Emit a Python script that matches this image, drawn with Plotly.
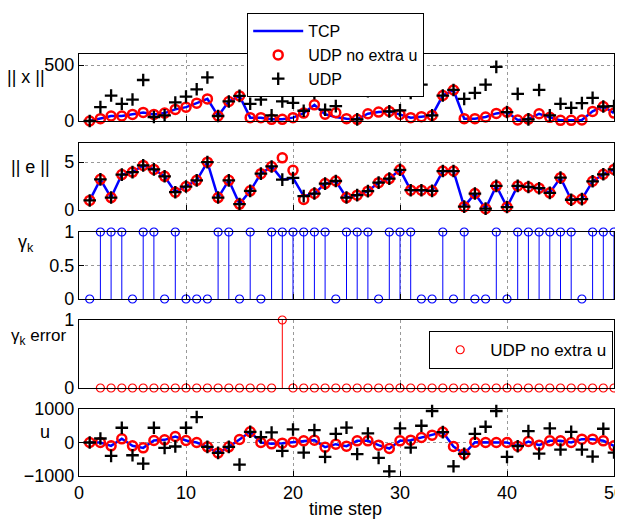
import plotly.graph_objects as go

k = list(range(1, 51))

x_tcp = [0, 21, 45, 45, 59, 77, 59, 71, 104, 124, 160, 198, 45, 175, 225, 30, 30, 15, 15, 30,
         71, 145, 60, 35, 21, 15, 65, 80, 86, 59, 30, 39, 50, 228, 278, 21, 21, 36, 68, 80,
         9, 17, 65, 33, 6, 6, 9, 86, 130, 71]
x_noextra = [0, 21, 45, 45, 59, 77, 59, 71, 104, 124, 160, 198, 45, 175, 225, 30, 30, 15, 15, 30,
             71, 145, 60, 74, 21, 15, 65, 80, 86, 59, 30, 39, 50, 228, 278, 21, 21, 36, 68, 80,
             9, 17, 65, 33, 6, 6, 9, 86, 130, 71]
x_udp = [0, 124, 228, 154, 192, 367, 36, 50, 166, 219, 284, 390, 45, 175, 225, 154, 192, 50, 175, 163,
         92, 248, 101, 133, 275, 15, 266, 346, 86, 95, 251, 325, 50, 228, 278, 198, 251, 325, 485, 80,
         243, 15, 278, 50, 154, 118, 160, 207, 130, 133]

e_noextra = [1.0, 3.2, 1.3, 3.7, 3.96, 4.66, 4.24, 3.52, 1.86, 2.45, 3.1, 5.0, 1.3, 3.1, 0.62, 2.0, 3.8, 4.55, 5.45, 4.14,
             1.1, 1.72, 2.76, 3.03, 1.3, 1.55, 1.97, 2.86, 3.28, 4.2, 2.07, 2.07, 2.0, 4.07, 4.07, 0.35, 1.72, 0.14, 2.52, 0.31,
             2.52, 2.41, 2.28, 1.79, 3.38, 1.07, 1.14, 3.0, 3.73, 4.24]
e_udp = [1.0, 3.2, 1.3, 3.7, 3.96, 4.66, 4.24, 3.52, 1.86, 2.45, 3.1, 5.0, 1.3, 3.1, 0.62, 2.0, 3.8, 4.55, 3.17, 3.35,
         1.45, 1.72, 2.76, 3.03, 1.3, 1.55, 1.97, 2.86, 3.28, 4.2, 2.07, 2.07, 2.0, 4.07, 4.07, 0.35, 1.72, 0.14, 2.52, 0.31,
         2.52, 2.41, 2.28, 1.79, 3.38, 1.07, 1.14, 3.0, 3.73, 4.24]
e_tcp = e_udp

gamma = [0, 1, 1, 1, 0, 1, 1, 0, 1, 0, 0, 0, 1, 1, 0, 1, 0, 1, 1, 1,
         1, 1, 1, 0, 1, 1, 1, 0, 1, 1, 1, 0, 0, 1, 0, 1, 0, 0, 1, 0,
         1, 1, 1, 1, 1, 1, 0, 1, 1, 1]

k_err = list(range(2, 51))
gamma_err = [0] * 17 + [1] + [0] * 31

u_noextra = [0, 0, -100, 110, -100, -160, 60, 80, 180, 60, 0, -130, -310, -130, 90, 320, 0, -40, -20, 10,
             50, 70, -140, -50, -110, 50, 50, -80, -180, 50, 70, 150, 220, 310, -120, -340, 10, 0, 0, 0,
             -110, 30, -80, 50, 50, 0, 100, 100, 50, -100]
u_tcp = u_noextra
u_udp = [0, 120, -400, 440, -380, -630, 440, -160, -120, 440, 760, -130, -310, -130, -660, 320, 160, 300, -250, 390,
         -300, 370, -430, 260, 445, -345, 270, -460, -860, 420, -150, 500, 940, 310, -710, -340, 260, 470, 940, -430,
         -110, 340, -330, 420, -210, 320, -210, -420, 410, -300]

FONT = "Liberation Sans, Arial, Helvetica, sans-serif"
BLUE = "#0000ff"
RED = "#ff0000"
FS = 18

# page offset compensation (browser body margin)
OX, OY = 8, 8
W, H = 623 - OX, 519 - OY
PL, PR, PT, PB = 79, 614, 54, 476  # plot area in window pixels


def px2x(px):
    return (px - PL) / (PR - PL)


def py2y(py):
    return (PB - py) / (PB - PT)


fig = go.Figure()


def add_triple(tcp, noextra, udp, n, legend):
    xa = "x" if n == 1 else f"x{n}"
    ya = "y" if n == 1 else f"y{n}"
    fig.add_trace(go.Scatter(x=k, y=tcp, mode="lines", name="TCP", line=dict(color=BLUE, width=2.5),
                             xaxis=xa, yaxis=ya, showlegend=legend, legend="legend"))
    fig.add_trace(go.Scatter(x=k, y=noextra, mode="markers", name="UDP no extra u",
                             marker=dict(symbol="circle-open", size=9, color=RED, line=dict(width=2.5, color=RED)),
                             xaxis=xa, yaxis=ya, showlegend=legend, legend="legend", cliponaxis=False))
    fig.add_trace(go.Scatter(x=k, y=udp, mode="markers", name="UDP",
                             marker=dict(symbol="cross-thin", size=9, color="black", line=dict(width=2.3, color="black")),
                             xaxis=xa, yaxis=ya, showlegend=legend, legend="legend", cliponaxis=False))


add_triple(x_tcp, x_noextra, x_udp, 1, True)
add_triple(e_tcp, e_noextra, e_udp, 2, False)

# gamma stems
sx, sy = [], []
for kk, g in zip(k, gamma):
    sx += [kk, kk, None]
    sy += [0, g, None]
fig.add_trace(go.Scatter(x=sx, y=sy, mode="lines", line=dict(color=BLUE, width=1), xaxis="x3", yaxis="y3",
                         showlegend=False))
fig.add_trace(go.Scatter(x=k, y=gamma, mode="markers",
                         marker=dict(symbol="circle-open", size=8, color=BLUE, line=dict(width=1.2, color=BLUE)),
                         xaxis="x3", yaxis="y3", showlegend=False, cliponaxis=False))

# gamma error stems
ex, ey = [], []
for kk, g in zip(k_err, gamma_err):
    ex += [kk, kk, None]
    ey += [0, g, None]
fig.add_trace(go.Scatter(x=ex, y=ey, mode="lines", line=dict(color=RED, width=1), xaxis="x4", yaxis="y4",
                         showlegend=False))
fig.add_trace(go.Scatter(x=k_err, y=gamma_err, mode="markers", name="UDP no extra u",
                         marker=dict(symbol="circle-open", size=8, color=RED, line=dict(width=1.2, color=RED)),
                         xaxis="x4", yaxis="y4", showlegend=True, legend="legend2", cliponaxis=False))

add_triple(u_tcp, u_noextra, u_udp, 5, False)

dom_px = [(54, 121), (143, 210), (232, 299), (320, 388), (409, 476)]
domains = [(py2y(b), py2y(t)) for t, b in dom_px]
yranges = [[0, 600], [0, 7], [0, 1], [0, 1], [-1000, 1000]]
yticks = [[0, 500], [0, 5], [0, 0.5, 1], [0, 1], [-1000, 0, 1000]]
yticktext = [["0", "500"], ["0", "5"], ["0", "0.5", "1"], ["0", "1"], ["\u22121000", "0", "1000"]]

axis_common = dict(showline=True, mirror=True, linecolor="black", linewidth=1.2, ticks="inside", ticklen=5,
                   tickcolor="black", showgrid=True, gridcolor="#999999", griddash="dot", gridwidth=1,
                   zeroline=False, automargin=False, ticklabeloverflow="allow",
                   tickfont=dict(family=FONT, size=FS, color="black"))

layout = {}
for i in range(5):
    n = i + 1
    xn = "xaxis" if n == 1 else f"xaxis{n}"
    yn = "yaxis" if n == 1 else f"yaxis{n}"
    ya = "y" if n == 1 else f"y{n}"
    xa = "x" if n == 1 else f"x{n}"
    layout[xn] = dict(axis_common, domain=[0, 1], range=[0, 50], anchor=ya, tickvals=[0, 10, 20, 30, 40, 50],
                      showticklabels=(n == 5))
    layout[yn] = dict(axis_common, domain=[max(0, domains[i][0]), min(1, domains[i][1])], range=yranges[i],
                      anchor=xa, tickvals=yticks[i], ticktext=yticktext[i])

fig.update_layout(**layout)

annos = [
    ("|| x ||", 26, 77, FS),
    ("|| e ||", 30, 167, FS),
    ("\u03b3<sub>k</sub>", 26, 243, FS),
    ("\u03b3<sub>k</sub> error", 38, 337, 17),
    ("u", 45, 432, FS),
    ("time step", 345, 509, FS),
]
ann = []
for txt, px, py, fs in annos:
    ann.append(dict(text=txt, xref="paper", yref="paper", x=px2x(px), y=py2y(py),
                    xanchor="center", yanchor="middle", showarrow=False,
                    font=dict(family=FONT, size=fs, color="black")))

fig.update_layout(
    width=W, height=H,
    margin=dict(l=PL - OX, r=W - (PR - OX), t=PT - OY, b=H - (PB - OY), autoexpand=False),
    paper_bgcolor="white", plot_bgcolor="white",
    font=dict(family=FONT, size=FS, color="black"),
    annotations=ann,
    legend=dict(x=px2x(247), y=py2y(13), xanchor="left", yanchor="top",
                bgcolor="white", bordercolor="black", borderwidth=1.2,
                font=dict(family=FONT, size=16, color="black"), tracegroupgap=0, itemwidth=50),
    legend2=dict(x=px2x(613), y=py2y(331), xanchor="right", yanchor="top",
                 bgcolor="white", bordercolor="black", borderwidth=1.2, itemwidth=50,
                 font=dict(family=FONT, size=17, color="black")),
)

fig.write_html("out.html")
